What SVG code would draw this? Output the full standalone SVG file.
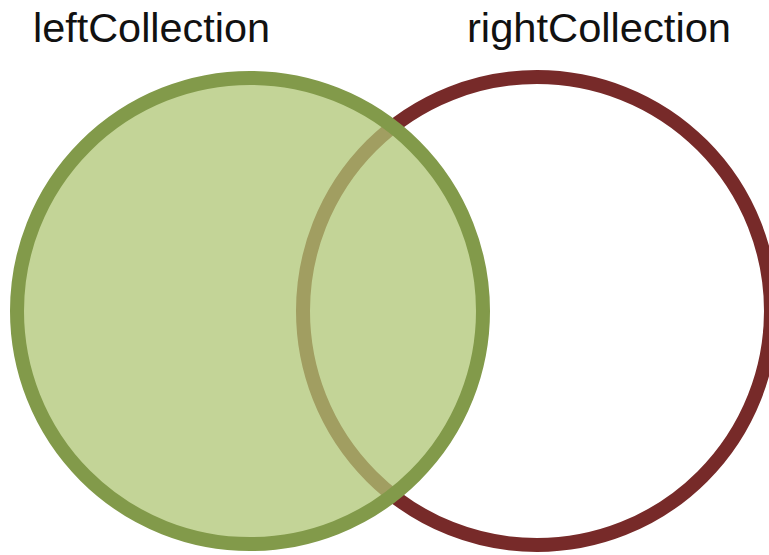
<svg xmlns="http://www.w3.org/2000/svg" width="769" height="555" viewBox="0 0 769 555">
  <style>
    .label { font-family: "Liberation Sans", Arial, sans-serif; font-size: 40px; fill: #111111; }
    .right-set { fill: none; stroke: #772a29; stroke-width: 14; }
    .left-set { fill: #afc674; fill-opacity: 0.75; stroke: #829a4a; stroke-width: 14; }
  </style>
  <rect width="769" height="555" fill="#ffffff"/>
  <!-- right set drawn first so the translucent left fill tints its outline -->
  <g id="rightCollection">
    <circle class="right-set" cx="537" cy="311" r="234"/>
    <text class="label" x="467" y="42" textLength="264" lengthAdjust="spacingAndGlyphs">rightCollection</text>
  </g>
  <g id="leftCollection">
    <circle class="left-set" cx="250" cy="311" r="233"/>
    <text class="label" x="33" y="42" textLength="237" lengthAdjust="spacingAndGlyphs">leftCollection</text>
  </g>
</svg>
